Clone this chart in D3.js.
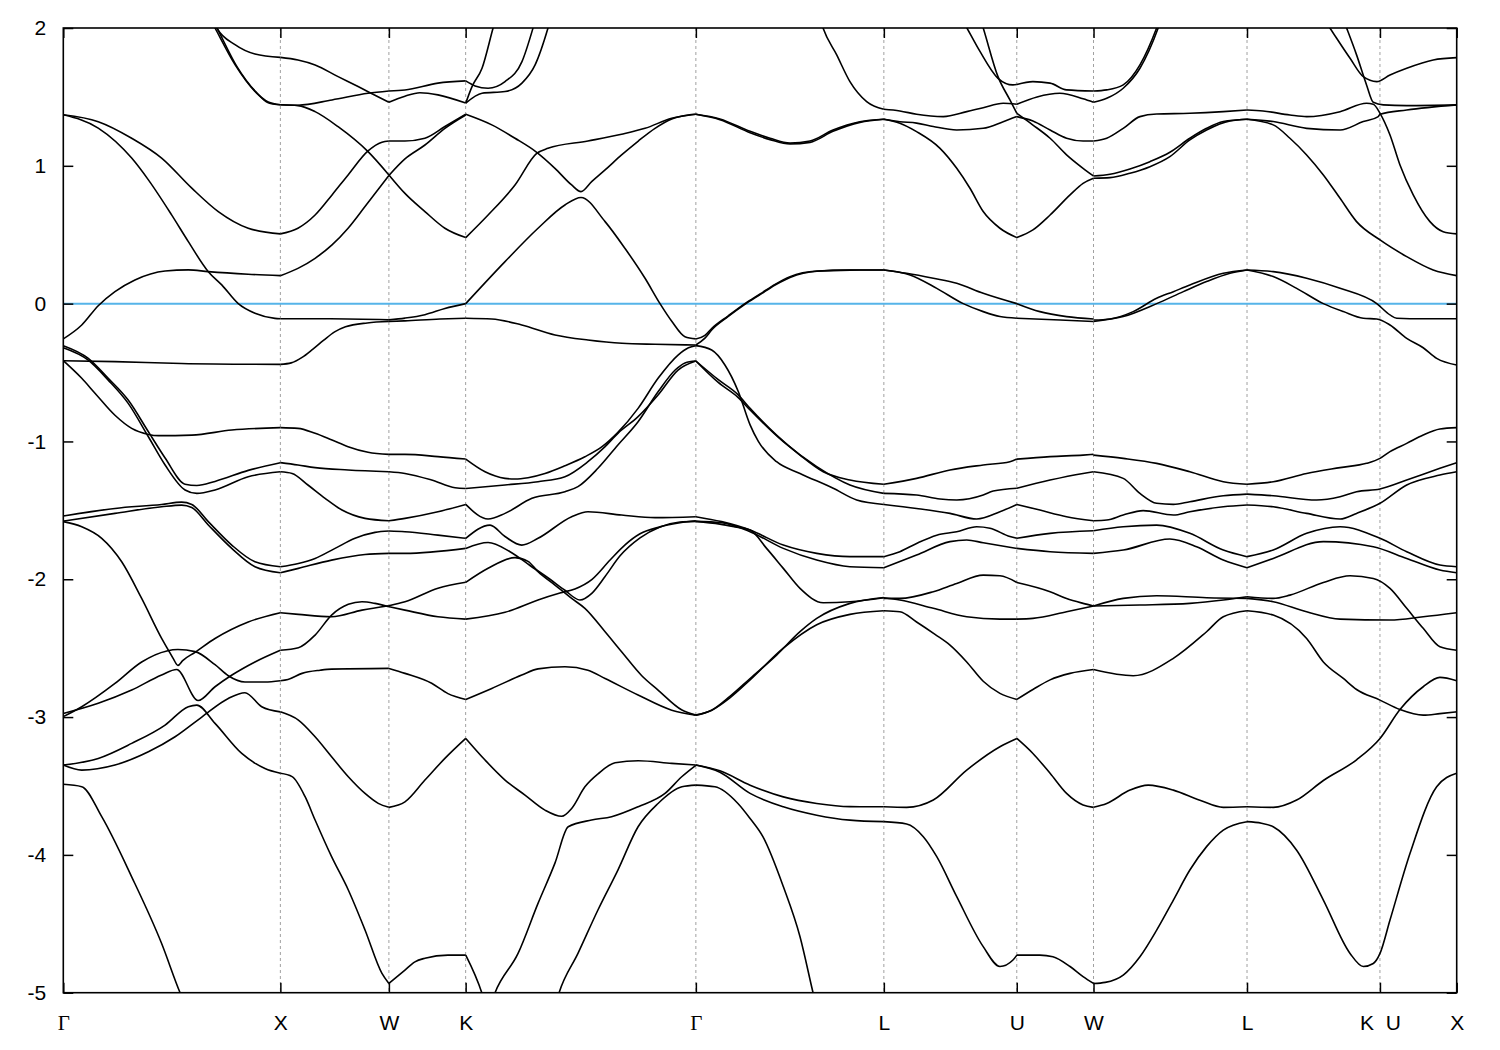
<!DOCTYPE html>
<html><head><meta charset="utf-8">
<script src="https://cdn.jsdelivr.net/npm/d3@7"></script>
<style>
html,body{margin:0;padding:0;background:#fff;}
</style></head>
<body>
<svg id="chart" width="1500" height="1050"></svg>
<script>
// High-symmetry points (path distance, 2π/a units) and labels
const kTicks  = [0, 1.0, 1.5, 1.8536, 2.9142, 3.7802, 4.3926, 4.7462, 5.4533, 6.0657, 6.4193];
const kLabels = ["Γ","X","W","K","Γ","L","U","W","L","K  U","X"];
const yTicks  = [2, 1, 0, -1, -2, -3, -4, -5];
const fermi   = 0;

// Bands, traced segment by segment: each line is a list of [k, E(eV)]
const segGX = [
 [[0,1.37],[0.161,1.32],[0.315,1.20],[0.453,1.056],[0.592,0.838],[0.714,0.668],[0.852,0.547],[1.0,0.506]],
 [[0,1.37],[0.161,1.274],[0.315,1.056],[0.392,0.898],[0.499,0.644],[0.576,0.45],[0.668,0.232],[0.730,0.136],[0.806,0],[0.883,-0.07],[0.975,-0.107],[1.0,-0.11]],
 [[0,-0.256],[0.085,-0.155],[0.161,-0.015],[0.238,0.087],[0.330,0.172],[0.469,0.237],[0.576,0.245],[0.668,0.232],[0.852,0.213],[1.0,0.203]],
 [[0.662,2.11],[0.699,2.0],[0.791,1.734],[0.883,1.54],[0.944,1.463],[1.0,1.443]],
 [[0.671,2.11],[0.708,2.0],[0.800,1.72],[0.888,1.535],[0.944,1.458],[1.0,1.443]],
 [[0.676,2.1],[0.707,2.0],[0.791,1.879],[0.883,1.811],[1.0,1.787]],
 [[0,-0.414],[0.238,-0.421],[0.545,-0.434],[1.0,-0.441]],
 [[0,-0.414],[0.085,-0.542],[0.146,-0.65],[0.238,-0.81],[0.315,-0.905],[0.392,-0.949],[0.438,-0.958],[0.592,-0.954],[0.776,-0.917],[1.0,-0.90]],
 [[0,-0.305],[0.115,-0.397],[0.207,-0.542],[0.299,-0.70],[0.392,-0.93],[0.469,-1.12],[0.561,-1.31],[0.615,-1.32],[0.699,-1.29],[0.852,-1.21],[1.0,-1.154]],
 [[0,-0.32],[0.115,-0.41],[0.207,-0.555],[0.299,-0.724],[0.392,-0.966],[0.469,-1.171],[0.561,-1.352],[0.615,-1.377],[0.699,-1.352],[0.852,-1.256],[1.0,-1.22]],
 [[0,-1.541],[0.238,-1.486],[0.453,-1.457],[0.545,-1.44],[0.592,-1.457],[0.668,-1.582],[0.776,-1.752],[0.883,-1.873],[1.0,-1.909]],
 [[0,-1.578],[0.238,-1.522],[0.453,-1.474],[0.545,-1.462],[0.592,-1.48],[0.668,-1.606],[0.776,-1.776],[0.883,-1.909],[1.0,-1.953]],
 [[0,-1.582],[0.085,-1.619],[0.177,-1.703],[0.269,-1.873],[0.361,-2.139],[0.453,-2.429],[0.484,-2.514],[0.508,-2.58],[0.528,-2.625],[0.55,-2.59],[0.607,-2.53],[0.699,-2.43],[0.852,-2.31],[1.0,-2.243]],
 [[0,-2.997],[0.085,-2.925],[0.238,-2.756],[0.361,-2.6],[0.477,-2.52],[0.528,-2.51],[0.607,-2.525],[0.699,-2.62],[0.760,-2.70],[0.837,-2.745],[0.929,-2.745],[1.0,-2.736]],
 [[0,-2.974],[0.161,-2.9],[0.315,-2.804],[0.453,-2.695],[0.522,-2.655],[0.621,-2.88],[0.699,-2.78],[0.777,-2.695],[0.883,-2.6],[1.0,-2.515]],
 [[0,-3.348],[0.161,-3.3],[0.315,-3.191],[0.469,-3.058],[0.576,-2.925],[0.615,-2.913],[0.699,-3.046],[0.822,-3.264],[0.929,-3.373],[1.0,-3.408]],
 [[0,-3.348],[0.085,-3.385],[0.238,-3.348],[0.392,-3.252],[0.515,-3.143],[0.638,-3.0],[0.760,-2.865],[0.837,-2.823],[0.914,-2.925],[1.0,-2.962]],
 [[0,-3.488],[0.085,-3.505],[0.177,-3.723],[0.315,-4.159],[0.453,-4.643],[0.538,-5.0],[0.56,-5.08]]
];
const segXW = [
 [[1.0,1.787],[1.081,1.768],[1.160,1.732],[1.266,1.647],[1.358,1.575],[1.404,1.538],[1.5,1.461]],
 [[1.0,1.443],[1.081,1.44],[1.238,1.478],[1.404,1.526],[1.5,1.543]],
 [[1.0,1.443],[1.081,1.437],[1.160,1.393],[1.266,1.284],[1.404,1.103],[1.5,0.934]],
 [[1.0,0.506],[1.081,0.547],[1.160,0.643],[1.238,0.789],[1.312,0.934],[1.404,1.108],[1.468,1.171],[1.5,1.18]],
 [[1.0,0.203],[1.081,0.256],[1.160,0.329],[1.238,0.426],[1.312,0.547],[1.390,0.704],[1.5,0.93]],
 [[1.0,-0.11],[1.229,-0.11],[1.5,-0.118]],
 [[1.0,-0.441],[1.05,-0.43],[1.1,-0.39],[1.15,-0.33],[1.2,-0.265],[1.25,-0.205],[1.3,-0.168],[1.4,-0.14],[1.5,-0.13]],
 [[1.0,-0.90],[1.081,-0.905],[1.160,-0.941],[1.238,-0.99],[1.312,-1.038],[1.404,-1.079],[1.5,-1.094]],
 [[1.0,-1.154],[1.081,-1.171],[1.160,-1.19],[1.312,-1.207],[1.5,-1.22]],
 [[1.0,-1.22],[1.054,-1.232],[1.127,-1.316],[1.206,-1.413],[1.284,-1.498],[1.390,-1.558],[1.5,-1.575]],
 [[1.0,-1.909],[1.083,-1.885],[1.160,-1.849],[1.252,-1.776],[1.344,-1.703],[1.436,-1.66],[1.5,-1.65]],
 [[1.0,-1.953],[1.083,-1.921],[1.236,-1.861],[1.390,-1.82],[1.5,-1.812]],
 [[1.0,-2.243],[1.083,-2.255],[1.236,-2.272],[1.376,-2.224],[1.5,-2.192]],
 [[1.0,-2.515],[1.083,-2.497],[1.160,-2.405],[1.236,-2.26],[1.313,-2.182],[1.376,-2.163],[1.436,-2.175],[1.5,-2.199]],
 [[1.0,-2.736],[1.035,-2.727],[1.100,-2.683],[1.183,-2.66],[1.236,-2.652],[1.5,-2.647]],
 [[1.0,-2.962],[1.083,-3.022],[1.160,-3.143],[1.236,-3.288],[1.313,-3.433],[1.390,-3.554],[1.451,-3.626],[1.5,-3.655]],
 [[1.0,-3.408],[1.054,-3.432],[1.114,-3.578],[1.160,-3.747],[1.236,-4.013],[1.313,-4.255],[1.390,-4.545],[1.468,-4.86],[1.5,-4.933]]
];
const segWK = [
 [[1.5,1.543],[1.574,1.55],[1.726,1.6],[1.854,1.616]],
 [[1.5,1.461],[1.574,1.505],[1.643,1.53],[1.726,1.515],[1.854,1.455]],
 [[1.5,1.18],[1.574,1.18],[1.666,1.2],[1.758,1.285],[1.854,1.374]],
 [[1.5,0.93],[1.574,1.05],[1.666,1.151],[1.758,1.272],[1.854,1.369]],
 [[1.5,0.934],[1.574,0.80],[1.666,0.668],[1.758,0.547],[1.854,0.479]],
 [[1.5,-0.118],[1.574,-0.105],[1.666,-0.08],[1.758,-0.035],[1.854,0]],
 [[1.5,-0.13],[1.574,-0.125],[1.735,-0.112],[1.854,-0.106]],
 [[1.5,-1.094],[1.574,-1.094],[1.726,-1.11],[1.854,-1.128]],
 [[1.5,-1.22],[1.574,-1.232],[1.697,-1.28],[1.805,-1.336],[1.854,-1.341]],
 [[1.5,-1.575],[1.574,-1.558],[1.726,-1.51],[1.854,-1.457]],
 [[1.5,-1.65],[1.574,-1.655],[1.726,-1.68],[1.854,-1.703]],
 [[1.5,-1.812],[1.574,-1.812],[1.854,-1.776]],
 [[1.5,-2.192],[1.574,-2.163],[1.726,-2.065],[1.854,-2.022]],
 [[1.5,-2.199],[1.574,-2.224],[1.726,-2.272],[1.854,-2.289]],
 [[1.5,-2.647],[1.574,-2.683],[1.697,-2.755],[1.772,-2.83],[1.854,-2.872]],
 [[1.5,-3.655],[1.574,-3.615],[1.666,-3.457],[1.758,-3.30],[1.854,-3.155]],
 [[1.5,-4.933],[1.574,-4.836],[1.620,-4.776],[1.666,-4.75],[1.772,-4.727],[1.854,-4.727]]
];
const segKG = [
 [[1.854,1.455],[1.883,1.575],[1.929,1.708],[1.980,2.0],[1.998,2.1]],
 [[1.854,1.616],[1.897,1.58],[1.957,1.563],[2.035,1.611],[2.113,1.756],[2.164,2.0],[2.182,2.1]],
 [[1.854,1.455],[1.929,1.527],[2.035,1.539],[2.113,1.6],[2.173,1.73],[2.233,2.0],[2.251,2.1]],
 [[1.854,1.374],[1.974,1.297],[2.081,1.2],[2.181,1.098],[2.265,0.982],[2.342,0.861],[2.385,0.813],[2.434,0.885],[2.496,0.97],[2.572,1.079],[2.649,1.18],[2.726,1.272],[2.803,1.34],[2.879,1.369],[2.914,1.374]],
 [[1.854,0.479],[1.957,0.643],[2.081,0.861],[2.181,1.09],[2.233,1.127],[2.417,1.18],[2.572,1.229],[2.680,1.272],[2.803,1.345],[2.914,1.374]],
 [[1.854,0],[2.035,0.305],[2.187,0.547],[2.311,0.716],[2.385,0.77],[2.496,0.595],[2.588,0.40],[2.680,0.184],[2.749,0],[2.804,-0.13],[2.864,-0.24],[2.914,-0.256]],
 [[1.854,-0.106],[1.974,-0.111],[2.112,-0.155],[2.265,-0.227],[2.417,-0.264],[2.574,-0.288],[2.726,-0.295],[2.914,-0.30]],
 [[1.854,-1.128],[1.943,-1.22],[2.035,-1.268],[2.081,-1.273],[2.141,-1.263],[2.219,-1.232],[2.311,-1.176],[2.403,-1.111],[2.482,-1.038],[2.555,-0.934],[2.648,-0.76],[2.740,-0.542],[2.832,-0.373],[2.88,-0.32],[2.914,-0.305]],
 [[1.854,-1.341],[2.035,-1.316],[2.187,-1.292],[2.311,-1.256],[2.417,-1.147],[2.496,-1.038],[2.555,-0.941],[2.648,-0.82],[2.740,-0.663],[2.832,-0.482],[2.914,-0.416]],
 [[1.854,-1.457],[1.957,-1.563],[2.035,-1.522],[2.159,-1.413],[2.311,-1.365],[2.371,-1.328],[2.463,-1.195],[2.555,-1.026],[2.648,-0.857],[2.740,-0.64],[2.82,-0.48],[2.864,-0.43],[2.914,-0.416]],
 [[1.854,-1.703],[1.966,-1.607],[2.035,-1.69],[2.112,-1.752],[2.187,-1.703],[2.342,-1.546],[2.417,-1.51],[2.572,-1.534],[2.726,-1.553],[2.914,-1.546]],
 [[1.854,-2.022],[1.957,-1.92],[2.081,-1.843],[2.141,-1.87],[2.187,-1.945],[2.265,-2.042],[2.342,-2.139],[2.403,-2.211],[2.496,-2.381],[2.572,-2.526],[2.665,-2.70],[2.740,-2.804],[2.850,-2.949],[2.914,-2.986]],
 [[1.854,-1.776],[1.957,-1.733],[2.058,-1.8],[2.150,-1.9],[2.242,-2.0],[2.311,-2.08],[2.380,-2.15],[2.436,-2.1],[2.496,-1.98],[2.565,-1.83],[2.657,-1.7],[2.749,-1.62],[2.841,-1.585],[2.914,-1.58]],
 [[1.854,-2.289],[2.035,-2.24],[2.187,-2.15],[2.288,-2.1],[2.357,-2.07],[2.436,-2.0],[2.519,-1.86],[2.588,-1.75],[2.657,-1.67],[2.749,-1.62],[2.841,-1.59],[2.914,-1.575]],
 [[1.854,-2.872],[1.974,-2.792],[2.112,-2.695],[2.187,-2.65],[2.311,-2.635],[2.417,-2.66],[2.496,-2.72],[2.648,-2.84],[2.803,-2.95],[2.914,-2.986]],
 [[1.854,-3.155],[1.943,-3.312],[2.035,-3.457],[2.127,-3.566],[2.219,-3.675],[2.296,-3.72],[2.342,-3.663],[2.403,-3.506],[2.465,-3.41],[2.542,-3.332],[2.649,-3.317],[2.803,-3.336],[2.914,-3.348]],
 [[1.966,-5.1],[1.989,-5.0],[2.095,-4.715],[2.187,-4.352],[2.265,-4.06],[2.326,-3.796],[2.434,-3.747],[2.526,-3.723],[2.649,-3.65],[2.772,-3.554],[2.849,-3.433],[2.914,-3.35]],
 [[2.265,-5.1],[2.284,-5.0],[2.371,-4.715],[2.463,-4.4],[2.555,-4.11],[2.648,-3.796],[2.740,-3.627],[2.850,-3.506],[2.914,-3.494]],
 [[1.854,-4.727],[1.928,-5.0],[1.940,-5.06]]
];
const segGL = [
 [[2.914,1.374],[3.025,1.34],[3.164,1.25],[3.256,1.2],[3.348,1.165],[3.440,1.18],[3.546,1.26],[3.670,1.32],[3.780,1.338]],
 [[2.914,1.374],[3.025,1.335],[3.164,1.24],[3.256,1.19],[3.348,1.158],[3.440,1.17],[3.546,1.25],[3.670,1.315],[3.780,1.338]],
 [[3.463,2.2],[3.500,2.0],[3.563,1.805],[3.624,1.611],[3.701,1.466],[3.780,1.41]],
 [[2.914,-0.256],[2.956,-0.23],[2.988,-0.179],[3.062,-0.09],[3.140,0.0],[3.210,0.07],[3.279,0.14],[3.348,0.196],[3.472,0.237],[3.624,0.244],[3.780,0.244]],
 [[2.914,-0.30],[2.956,-0.25],[2.988,-0.19],[3.062,-0.095],[3.140,-0.005],[3.210,0.065],[3.279,0.135],[3.348,0.19],[3.472,0.235],[3.624,0.243],[3.780,0.244]],
 [[2.914,-0.305],[2.987,-0.337],[3.048,-0.445],[3.110,-0.639],[3.164,-0.88],[3.202,-1.0],[3.286,-1.147],[3.394,-1.232],[3.547,-1.34],[3.655,-1.425],[3.780,-1.457]],
 [[2.914,-0.416],[3.016,-0.55],[3.108,-0.66],[3.164,-0.76],[3.286,-0.954],[3.394,-1.099],[3.501,-1.22],[3.624,-1.28],[3.780,-1.311]],
 [[2.914,-0.416],[3.016,-0.57],[3.108,-0.68],[3.164,-0.772],[3.317,-1.002],[3.471,-1.183],[3.624,-1.316],[3.780,-1.377]],
 [[2.914,-1.546],[3.033,-1.582],[3.164,-1.643],[3.317,-1.752],[3.471,-1.812],[3.624,-1.836],[3.780,-1.836]],
 [[2.914,-1.58],[3.033,-1.59],[3.164,-1.655],[3.317,-1.776],[3.471,-1.861],[3.624,-1.909],[3.780,-1.916]],
 [[2.914,-1.58],[3.025,-1.6],[3.094,-1.62],[3.164,-1.643],[3.240,-1.776],[3.317,-1.921],[3.394,-2.066],[3.501,-2.17],[3.624,-2.163],[3.780,-2.134]],
 [[2.914,-2.986],[2.987,-2.95],[3.071,-2.85],[3.164,-2.72],[3.286,-2.55],[3.394,-2.38],[3.471,-2.284],[3.624,-2.175],[3.780,-2.132]],
 [[2.914,-2.986],[2.987,-2.95],[3.071,-2.86],[3.164,-2.73],[3.317,-2.5],[3.471,-2.33],[3.624,-2.255],[3.780,-2.229]],
 [[2.914,-3.348],[3.025,-3.39],[3.164,-3.494],[3.317,-3.579],[3.471,-3.627],[3.624,-3.65],[3.780,-3.651]],
 [[2.914,-3.348],[3.025,-3.40],[3.164,-3.554],[3.317,-3.651],[3.471,-3.712],[3.624,-3.748],[3.780,-3.759]],
 [[2.914,-3.494],[3.002,-3.506],[3.108,-3.627],[3.164,-3.736],[3.223,-3.868],[3.317,-4.23],[3.394,-4.594],[3.454,-5.0],[3.477,-5.15]]
];
const segLU = [
 [[3.780,1.41],[3.854,1.398],[3.931,1.374],[4.054,1.357],[4.162,1.393],[4.238,1.422],[4.330,1.454],[4.393,1.447]],
 [[3.780,1.338],[3.854,1.32],[3.931,1.31],[4.008,1.285],[4.116,1.26],[4.238,1.272],[4.330,1.32],[4.393,1.357]],
 [[3.780,1.338],[3.854,1.309],[3.931,1.248],[4.039,1.127],[4.116,0.982],[4.177,0.837],[4.238,0.668],[4.315,0.547],[4.393,0.479]],
 [[4.131,2.09],[4.163,2.0],[4.223,1.83],[4.306,1.635],[4.375,1.587],[4.393,1.59]],
 [[4.214,2.12],[4.238,2.0],[4.306,1.647],[4.361,1.478],[4.393,1.38]],
 [[3.780,0.244],[3.885,0.22],[4.008,0.184],[4.116,0.148],[4.238,0.075],[4.393,0]],
 [[3.780,0.244],[3.901,0.208],[4.024,0.111],[4.146,0],[4.238,-0.058],[4.315,-0.094],[4.393,-0.106]],
 [[3.780,-1.311],[3.931,-1.268],[4.085,-1.207],[4.238,-1.171],[4.361,-1.147],[4.393,-1.128]],
 [[3.780,-1.377],[3.931,-1.389],[4.039,-1.418],[4.116,-1.425],[4.238,-1.389],[4.284,-1.36],[4.393,-1.34]],
 [[3.780,-1.457],[3.931,-1.486],[4.085,-1.522],[4.208,-1.563],[4.315,-1.51],[4.393,-1.457]],
 [[3.780,-1.836],[3.854,-1.8],[3.931,-1.74],[4.024,-1.68],[4.116,-1.655],[4.208,-1.619],[4.269,-1.63],[4.361,-1.69],[4.393,-1.703]],
 [[3.780,-1.916],[3.931,-1.824],[4.085,-1.727],[4.162,-1.715],[4.238,-1.735],[4.393,-1.776]],
 [[3.780,-2.134],[3.854,-2.151],[4.008,-2.211],[4.162,-2.272],[4.315,-2.289],[4.393,-2.289]],
 [[3.780,-2.139],[3.854,-2.139],[4.008,-2.09],[4.116,-2.03],[4.238,-1.97],[4.315,-1.975],[4.393,-2.023]],
 [[3.780,-2.229],[3.854,-2.236],[3.931,-2.31],[4.016,-2.40],[4.085,-2.478],[4.162,-2.6],[4.238,-2.74],[4.315,-2.828],[4.393,-2.872]],
 [[3.780,-3.651],[3.885,-3.655],[4.008,-3.602],[4.162,-3.385],[4.315,-3.215],[4.393,-3.155]],
 [[3.780,-3.759],[3.885,-3.776],[3.962,-3.868],[4.024,-4.013],[4.116,-4.303],[4.238,-4.666],[4.315,-4.81],[4.375,-4.763],[4.393,-4.727]]
];
const segUW = [
 [[4.393,1.59],[4.467,1.611],[4.546,1.6],[4.622,1.551],[4.746,1.543]],
 [[4.393,1.447],[4.486,1.5],[4.591,1.526],[4.698,1.486],[4.746,1.461]],
 [[4.393,1.38],[4.467,1.296],[4.546,1.2],[4.622,1.08],[4.698,0.982],[4.746,0.926]],
 [[4.393,1.357],[4.467,1.325],[4.546,1.26],[4.622,1.2],[4.698,1.18],[4.746,1.18]],
 [[4.393,0.479],[4.467,0.535],[4.546,0.643],[4.638,0.789],[4.698,0.873],[4.746,0.91]],
 [[4.393,0],[4.499,-0.058],[4.622,-0.094],[4.746,-0.111]],
 [[4.393,-0.106],[4.592,-0.119],[4.746,-0.13]],
 [[4.393,-1.128],[4.546,-1.11],[4.698,-1.099],[4.746,-1.094]],
 [[4.393,-1.34],[4.546,-1.28],[4.698,-1.232],[4.746,-1.22]],
 [[4.393,-1.457],[4.499,-1.498],[4.622,-1.546],[4.746,-1.575]],
 [[4.393,-1.703],[4.546,-1.667],[4.746,-1.648]],
 [[4.393,-1.776],[4.546,-1.8],[4.746,-1.812]],
 [[4.393,-2.023],[4.546,-2.09],[4.622,-2.14],[4.698,-2.175],[4.746,-2.194]],
 [[4.393,-2.289],[4.467,-2.284],[4.622,-2.236],[4.746,-2.194]],
 [[4.393,-2.872],[4.467,-2.8],[4.546,-2.73],[4.638,-2.683],[4.746,-2.655]],
 [[4.393,-3.155],[4.467,-3.264],[4.546,-3.408],[4.622,-3.554],[4.698,-3.638],[4.746,-3.655]],
 [[4.393,-4.727],[4.499,-4.727],[4.559,-4.739],[4.638,-4.81],[4.698,-4.883],[4.746,-4.933]]
];
const segWL = [
 [[4.746,1.543],[4.807,1.551],[4.883,1.587],[4.960,1.732],[5.037,2.0],[5.06,2.1]],
 [[4.746,1.461],[4.807,1.49],[4.883,1.563],[4.960,1.708],[5.044,2.0],[5.066,2.1]],
 [[4.746,1.18],[4.807,1.2],[4.883,1.272],[4.960,1.357],[5.037,1.376],[5.190,1.381],[5.344,1.393],[5.453,1.405]],
 [[4.746,0.926],[4.822,0.939],[4.914,0.977],[5.006,1.03],[5.098,1.098],[5.190,1.2],[5.267,1.272],[5.344,1.321],[5.453,1.338]],
 [[4.746,0.91],[4.822,0.914],[4.914,0.946],[5.006,0.994],[5.098,1.067],[5.190,1.188],[5.267,1.26],[5.375,1.326],[5.453,1.338]],
 [[4.746,-0.119],[4.822,-0.111],[4.929,-0.058],[5.037,0.039],[5.114,0.087],[5.190,0.135],[5.344,0.22],[5.453,0.244]],
 [[4.746,-0.13],[4.883,-0.094],[5.037,0.0],[5.160,0.087],[5.267,0.16],[5.375,0.22],[5.453,0.244]],
 [[4.746,-1.099],[4.883,-1.123],[5.037,-1.159],[5.190,-1.22],[5.344,-1.292],[5.453,-1.311]],
 [[4.746,-1.22],[4.883,-1.268],[4.960,-1.377],[5.037,-1.449],[5.114,-1.457],[5.190,-1.437],[5.344,-1.394],[5.453,-1.382]],
 [[4.746,-1.575],[4.807,-1.57],[4.883,-1.534],[4.975,-1.502],[5.114,-1.534],[5.190,-1.51],[5.344,-1.474],[5.453,-1.461]],
 [[4.746,-1.648],[4.883,-1.619],[5.037,-1.607],[5.190,-1.667],[5.344,-1.788],[5.453,-1.836]],
 [[4.746,-1.812],[4.883,-1.788],[5.098,-1.708],[5.221,-1.764],[5.344,-1.861],[5.453,-1.916]],
 [[4.746,-2.194],[4.883,-2.139],[5.037,-2.12],[5.267,-2.134],[5.453,-2.139]],
 [[4.746,-2.194],[4.960,-2.187],[5.190,-2.175],[5.344,-2.151],[5.453,-2.127]],
 [[4.746,-2.655],[4.929,-2.7],[5.114,-2.574],[5.267,-2.381],[5.344,-2.272],[5.453,-2.229]],
 [[4.746,-3.655],[4.807,-3.627],[4.914,-3.53],[4.998,-3.494],[5.114,-3.53],[5.236,-3.603],[5.344,-3.655],[5.453,-3.651]],
 [[4.746,-4.933],[4.80,-4.925],[4.883,-4.872],[4.960,-4.739],[5.037,-4.546],[5.114,-4.328],[5.190,-4.11],[5.267,-3.94],[5.344,-3.82],[5.453,-3.759]]
];
const segLKX = [
 [[5.453,1.405],[5.527,1.398],[5.651,1.369],[5.728,1.357],[5.882,1.393],[6.004,1.454],[6.035,1.447],[6.066,1.381],[6.112,1.224],[6.158,1.006],[6.219,0.789],[6.296,0.595],[6.357,0.522],[6.419,0.506]],
 [[5.453,1.338],[5.574,1.321],[5.728,1.272],[5.882,1.26],[5.989,1.321],[6.058,1.357],[6.066,1.374],[6.189,1.405],[6.419,1.442]],
 [[5.453,1.338],[5.574,1.297],[5.651,1.2],[5.728,1.079],[5.805,0.934],[5.882,0.764],[5.958,0.595],[6.066,0.462],[6.189,0.341],[6.311,0.244],[6.419,0.203]],
 [[5.797,2.09],[5.835,2.0],[5.928,1.78],[5.989,1.647],[6.051,1.611],[6.112,1.659],[6.189,1.708],[6.311,1.768],[6.419,1.785]],
 [[5.89,2.09],[5.912,2.0],[5.958,1.805],[6.004,1.587],[6.035,1.461],[6.081,1.442],[6.189,1.437],[6.419,1.442]],
 [[5.453,0.244],[5.574,0.232],[5.728,0.184],[5.882,0.111],[6.051,0],[6.112,-0.082],[6.143,-0.106],[6.265,-0.11],[6.419,-0.11]],
 [[5.453,0.244],[5.574,0.196],[5.682,0.111],[5.805,0],[5.897,-0.058],[5.989,-0.106],[6.051,-0.111],[6.112,-0.155],[6.189,-0.252],[6.265,-0.32],[6.327,-0.397],[6.419,-0.445]],
 [[5.453,-1.311],[5.574,-1.292],[5.728,-1.232],[5.882,-1.19],[6.004,-1.159],[6.066,-1.123],[6.112,-1.074],[6.189,-1.014],[6.265,-0.953],[6.342,-0.91],[6.419,-0.90]],
 [[5.453,-1.382],[5.574,-1.394],[5.774,-1.425],[5.882,-1.401],[5.958,-1.365],[6.066,-1.345],[6.189,-1.28],[6.342,-1.195],[6.419,-1.154]],
 [[5.453,-1.461],[5.574,-1.474],[5.728,-1.522],[5.882,-1.563],[5.958,-1.522],[6.066,-1.449],[6.189,-1.316],[6.342,-1.244],[6.419,-1.22]],
 [[5.453,-1.836],[5.574,-1.788],[5.728,-1.667],[5.882,-1.619],[6.066,-1.703],[6.189,-1.8],[6.342,-1.897],[6.419,-1.909]],
 [[5.453,-1.916],[5.574,-1.849],[5.805,-1.727],[6.035,-1.764],[6.189,-1.849],[6.342,-1.933],[6.419,-1.953]],
 [[5.453,-2.139],[5.574,-2.163],[5.728,-2.236],[5.882,-2.289],[6.112,-2.296],[6.265,-2.272],[6.419,-2.243]],
 [[5.453,-2.127],[5.574,-2.139],[5.651,-2.115],[5.805,-2.023],[5.928,-1.975],[6.035,-1.994],[6.112,-2.066],[6.189,-2.211],[6.265,-2.356],[6.342,-2.49],[6.419,-2.515]],
 [[5.453,-2.229],[5.574,-2.26],[5.728,-2.43],[5.805,-2.6],[5.897,-2.72],[5.958,-2.8],[6.066,-2.877],[6.158,-2.945],[6.265,-2.986],[6.342,-2.975],[6.419,-2.962]],
 [[5.453,-3.651],[5.574,-3.655],[5.682,-3.602],[5.805,-3.46],[5.958,-3.31],[6.066,-3.155],[6.158,-2.945],[6.265,-2.78],[6.342,-2.712],[6.419,-2.736]],
 [[5.453,-3.759],[5.52,-3.77],[5.574,-3.796],[5.682,-3.966],[5.805,-4.328],[5.928,-4.715],[5.989,-4.81],[6.035,-4.788],[6.066,-4.715],[6.112,-4.473],[6.204,-3.99],[6.327,-3.506],[6.419,-3.408]]
];
const allBands = [].concat(segGX, segXW, segWK, segKG, segGL, segLU, segUW, segWL, segLKX);

// ---------- drawing ----------
const SANS = "'Liberation Sans', Arial, Helvetica, sans-serif";
const SERIF = "'Liberation Serif', 'DejaVu Serif', 'Times New Roman', serif";
const svg = d3.select("#chart");
const plot = {left: 63.3, right: 1456.7, top: 28, bottom: 992.7};
const x = d3.scaleLinear().domain([kTicks[0], kTicks[kTicks.length-1]]).range([plot.left, plot.right]);
const y = d3.scaleLinear().domain([-5, 2]).range([plot.bottom, plot.top]);

svg.append("defs").append("clipPath").attr("id","clip")
  .append("rect").attr("x",plot.left).attr("y",plot.top)
  .attr("width",plot.right-plot.left).attr("height",plot.bottom-plot.top);

// vertical dashed lines at interior high-symmetry points
svg.append("g").selectAll("line").data(kTicks.slice(1,-1)).join("line")
  .attr("x1",d=>x(d)).attr("x2",d=>x(d)).attr("y1",plot.top).attr("y2",plot.bottom)
  .attr("stroke","#a0a0a0").attr("stroke-width",1).attr("stroke-dasharray","3,3");

// Fermi level
svg.append("line").attr("x1",plot.left).attr("x2",plot.right)
  .attr("y1",y(fermi)).attr("y2",y(fermi))
  .attr("stroke","#56b4e9").attr("stroke-width",2);

// bands
const line = d3.line().x(d=>x(d[0])).y(d=>y(d[1])).curve(d3.curveMonotoneX);
svg.append("g").attr("clip-path","url(#clip)").selectAll("path").data(allBands).join("path")
  .attr("d",line).attr("fill","none").attr("stroke","#000").attr("stroke-width",1.6)
  .attr("stroke-linejoin","round");

// axes (gnuplot style: inward ticks, mirrored)
const axL = d3.axisLeft(y).tickValues(yTicks).tickSize(-10).tickPadding(17).tickFormat(d=>String(d));
const axR = d3.axisRight(y).tickValues(yTicks).tickSize(-10).tickFormat("");
const axB = d3.axisBottom(x).tickValues(kTicks).tickSize(-10).tickPadding(22).tickFormat((d,i)=>kLabels[i]);
const axT = d3.axisTop(x).tickValues(kTicks).tickSize(-10).tickFormat("");

function style(g){
  g.select(".domain").remove();
  g.selectAll(".tick line").attr("stroke","#000").attr("stroke-width",1.5);
  g.selectAll(".tick text").attr("fill","#000").style("font-size","21px").style("font-family",SANS);
}
svg.append("g").attr("transform",`translate(${plot.left},0)`).call(axL).call(style);
svg.append("g").attr("transform",`translate(${plot.right},0)`).call(axR).call(style);
svg.append("g").attr("transform",`translate(0,${plot.bottom})`).call(axB).call(style)
  .selectAll(".tick text").attr("dy","0.71em").style("white-space","pre")
  .style("font-family",(d,i)=>kLabels[i]==="Γ" ? SERIF : SANS);
svg.append("g").attr("transform",`translate(0,${plot.top})`).call(axT).call(style);

// frame
svg.append("rect").attr("x",plot.left).attr("y",plot.top)
  .attr("width",plot.right-plot.left).attr("height",plot.bottom-plot.top)
  .attr("fill","none").attr("stroke","#000").attr("stroke-width",1.6);
</script>
</body></html>
